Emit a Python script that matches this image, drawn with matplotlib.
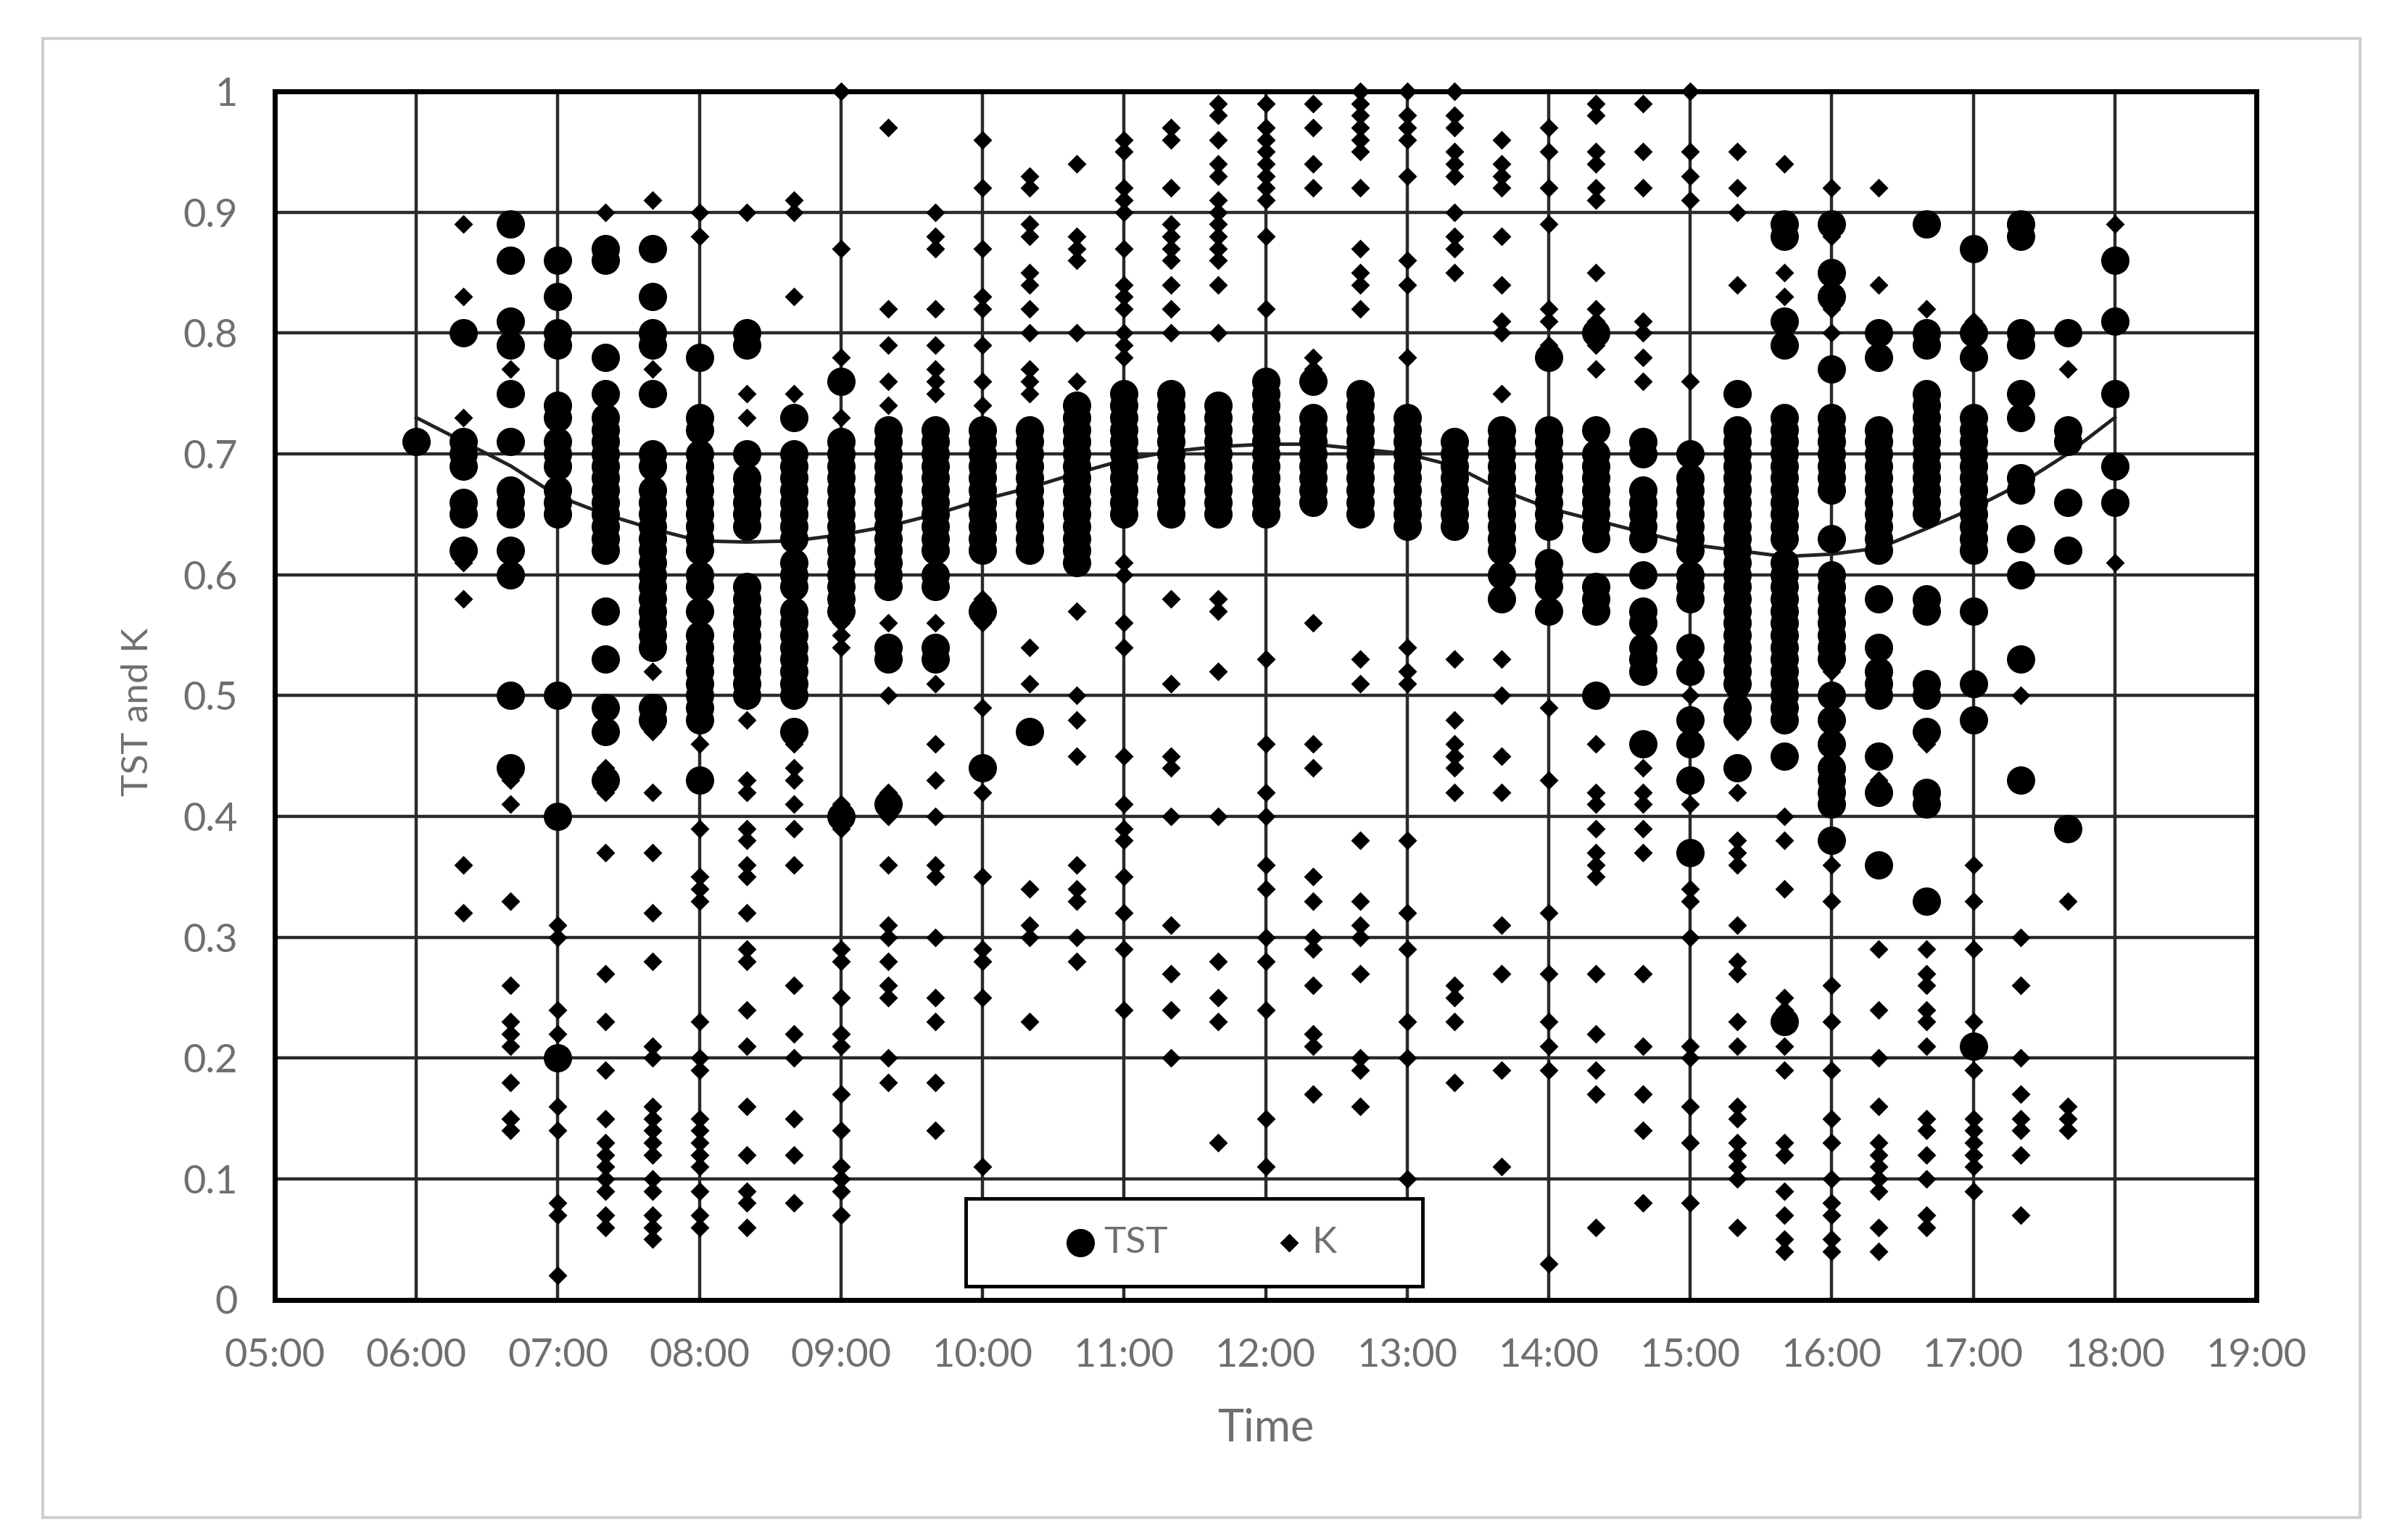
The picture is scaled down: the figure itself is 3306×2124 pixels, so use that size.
import matplotlib
matplotlib.use("Agg")
import matplotlib.pyplot as plt
from matplotlib.patches import Rectangle

plt.rcParams['font.family'] = ['Lato', 'DejaVu Sans']

## values, one list per time column, in hundredths
times = ['06:00', '06:20', '06:40', '07:00', '07:20', '07:40', '08:00', '08:20', '08:40', '09:00',
         '09:20', '09:40', '10:00', '10:20', '10:40', '11:00', '11:20', '11:40', '12:00', '12:20',
         '12:40', '13:00', '13:20', '13:40', '14:00', '14:20', '14:40', '15:00', '15:20', '15:40',
         '16:00', '16:20', '16:40', '17:00', '17:20', '17:40', '18:00']

tst = [
    [71],
    [80, 71, 70, 69, 66, 65, 62],
    [89, 86, 81, 79, 75, 71, 67, 66, 65, 62, 60, 50, 44],
    [86, 83, 80, 79, 74, 73, 71, 70, 69, 67, 66, 65, 50, 40, 20],
    [87, 86, 78, 75, 73, 72, 71, 70, 69, 68, 67, 66, 65, 64, 63, 62, 57, 53, 49, 47, 43],
    [87, 83, 80, 79, 75, 70, 69, 67, 66, 65, 64, 63, 62, 61, 60, 59, 58, 57, 56, 55, 54, 49, 48],
    [78, 73, 72, 70, 69, 68, 67, 66, 65, 64, 63, 62, 60, 59, 57, 55, 54, 53, 52, 51, 50, 49, 48, 43],
    [80, 79, 70, 68, 67, 66, 65, 64, 59, 58, 57, 56, 55, 54, 53, 52, 51, 50],
    [73, 70, 69, 68, 67, 66, 65, 64, 63, 61, 60, 59, 57, 56, 55, 54, 53, 52, 51, 50, 47],
    [76, 71, 70, 69, 68, 67, 66, 65, 64, 63, 62, 61, 60, 59, 58, 57, 40],
    [72, 71, 70, 69, 68, 67, 66, 65, 64, 63, 62, 61, 60, 59, 54, 53, 41],
    [72, 71, 70, 69, 68, 67, 66, 65, 64, 63, 62, 60, 59, 54, 53],
    [72, 71, 70, 69, 68, 67, 66, 65, 64, 63, 62, 57, 44],
    [72, 71, 70, 69, 68, 67, 66, 65, 64, 63, 62, 47],
    [74, 73, 72, 71, 70, 69, 68, 67, 66, 65, 64, 63, 62, 61],
    [75, 74, 73, 72, 71, 70, 69, 68, 67, 66, 65],
    [75, 74, 73, 72, 71, 70, 69, 68, 67, 66, 65],
    [74, 73, 72, 71, 70, 69, 68, 67, 66, 65],
    [76, 75, 74, 73, 72, 71, 70, 69, 68, 67, 66, 65],
    [76, 73, 72, 71, 70, 69, 68, 67, 66],
    [75, 74, 73, 72, 71, 70, 69, 68, 67, 66, 65],
    [73, 72, 71, 70, 69, 68, 67, 66, 65, 64],
    [71, 70, 69, 68, 67, 66, 65, 64],
    [72, 71, 70, 69, 68, 67, 66, 65, 64, 63, 62, 60, 58],
    [78, 72, 71, 70, 69, 68, 67, 66, 65, 64, 61, 60, 59, 57],
    [80, 72, 70, 69, 68, 67, 66, 65, 64, 63, 59, 58, 57, 50],
    [71, 70, 67, 66, 65, 64, 63, 60, 57, 56, 54, 53, 52, 46],
    [70, 68, 67, 66, 65, 64, 63, 62, 60, 59, 58, 54, 52, 48, 46, 43, 37],
    [75, 72, 71, 70, 69, 68, 67, 66, 65, 64, 63, 62, 61, 60, 59, 58, 57, 56, 55, 54, 53, 52, 51, 49, 48, 44],
    [89, 88, 81, 79, 73, 72, 71, 70, 69, 68, 67, 66, 65, 64, 63, 61, 60, 59, 58, 57, 56, 55, 54, 53, 52, 51, 50, 49, 48, 45, 23],
    [89, 85, 83, 77, 73, 72, 71, 70, 69, 68, 67, 63, 60, 59, 58, 57, 56, 55, 54, 53, 50, 48, 46, 44, 43, 42, 41, 38],
    [80, 78, 72, 71, 70, 69, 68, 67, 66, 65, 64, 63, 62, 58, 54, 52, 51, 50, 45, 42, 36],
    [89, 80, 79, 75, 74, 73, 72, 71, 70, 69, 68, 67, 66, 65, 58, 57, 51, 50, 47, 42, 41, 33],
    [87, 80, 78, 73, 72, 71, 70, 69, 68, 67, 66, 65, 64, 63, 62, 57, 51, 48, 21],
    [89, 88, 80, 79, 75, 73, 68, 67, 63, 60, 53, 43],
    [80, 72, 71, 66, 62, 39],
    [86, 81, 75, 69, 66],
]

k = [
    [],
    [89, 83, 73, 61, 58, 36, 32],
    [77, 43, 41, 33, 26, 23, 22, 21, 18, 15, 14],
    [40, 31, 30, 24, 22, 16, 14, 8, 7, 2],
    [90, 44, 42, 37, 27, 23, 19, 15, 13, 12, 11, 10, 9, 7, 6],
    [91, 77, 52, 47, 42, 37, 32, 28, 21, 20, 16, 15, 14, 13, 12, 10, 9, 7, 6, 5],
    [90, 88, 46, 39, 35, 34, 33, 23, 20, 19, 15, 14, 13, 12, 11, 9, 7, 6],
    [90, 75, 73, 48, 43, 42, 39, 38, 36, 35, 32, 29, 28, 24, 21, 16, 12, 9, 8, 6],
    [91, 90, 83, 75, 46, 44, 43, 41, 39, 36, 26, 22, 20, 15, 12, 8],
    [100, 87, 78, 73, 56, 55, 54, 41, 39, 29, 28, 25, 22, 21, 17, 14, 11, 10, 9, 7],
    [97, 82, 79, 76, 74, 56, 50, 42, 40, 36, 31, 30, 28, 26, 25, 20, 18],
    [90, 88, 87, 82, 79, 77, 76, 75, 56, 51, 46, 43, 40, 36, 35, 30, 25, 23, 18, 14],
    [96, 92, 87, 83, 82, 79, 76, 74, 58, 56, 49, 42, 35, 29, 28, 25, 11],
    [93, 92, 89, 88, 85, 84, 82, 80, 77, 76, 75, 54, 51, 34, 31, 30, 23],
    [94, 88, 87, 86, 80, 76, 57, 50, 48, 45, 36, 34, 33, 30, 28],
    [96, 95, 92, 91, 90, 87, 84, 83, 82, 80, 79, 78, 61, 60, 56, 54, 45, 41, 39, 38, 35, 32, 29, 24],
    [97, 96, 92, 89, 88, 87, 86, 84, 82, 80, 58, 51, 45, 44, 40, 31, 27, 24, 20],
    [99, 98, 96, 94, 93, 91, 90, 89, 88, 87, 86, 84, 80, 58, 57, 52, 40, 28, 25, 23, 13],
    [99, 97, 96, 95, 94, 93, 92, 91, 88, 82, 53, 46, 42, 40, 36, 34, 30, 28, 24, 15, 11],
    [99, 97, 94, 92, 78, 77, 56, 46, 44, 35, 33, 30, 29, 26, 22, 21, 17],
    [100, 99, 98, 97, 96, 95, 92, 87, 85, 84, 82, 53, 51, 38, 33, 31, 30, 27, 20, 19, 16],
    [100, 98, 97, 96, 93, 86, 84, 78, 54, 52, 51, 38, 32, 29, 23, 20, 10],
    [100, 98, 97, 95, 94, 93, 90, 88, 87, 85, 53, 48, 46, 45, 44, 42, 26, 25, 23, 18],
    [96, 94, 93, 92, 88, 84, 81, 80, 75, 53, 50, 45, 42, 31, 27, 19, 11],
    [97, 95, 92, 89, 82, 81, 79, 49, 43, 32, 27, 23, 21, 19, 3],
    [99, 98, 95, 94, 92, 91, 85, 82, 81, 79, 77, 46, 42, 41, 39, 37, 36, 35, 27, 22, 19, 17, 6],
    [99, 95, 92, 81, 80, 78, 76, 44, 42, 41, 39, 37, 27, 21, 17, 14, 8],
    [100, 95, 93, 91, 76, 50, 41, 34, 33, 30, 21, 20, 16, 13, 8],
    [95, 92, 90, 84, 50, 47, 42, 38, 37, 36, 31, 28, 27, 23, 21, 16, 15, 13, 12, 11, 10, 6],
    [94, 85, 83, 40, 38, 34, 25, 24, 21, 19, 13, 12, 9, 7, 5, 4],
    [92, 88, 82, 80, 52, 36, 33, 26, 23, 19, 15, 13, 10, 8, 7, 5, 4],
    [92, 84, 50, 43, 29, 24, 20, 16, 13, 12, 11, 10, 9, 6, 4],
    [82, 46, 29, 27, 26, 24, 23, 21, 15, 14, 12, 10, 7, 6],
    [81, 36, 33, 29, 23, 19, 15, 14, 13, 12, 11, 9],
    [50, 30, 26, 20, 17, 15, 14, 12, 7],
    [77, 33, 16, 15, 14],
    [89, 61],
]

trend = [0.73, 0.71, 0.69, 0.665, 0.65, 0.638, 0.628, 0.627, 0.628, 0.633, 0.64, 0.65, 0.662, 0.672,
         0.684, 0.695, 0.702, 0.706, 0.708, 0.708, 0.704, 0.70, 0.69, 0.67, 0.655, 0.645, 0.635, 0.625,
         0.62, 0.615, 0.617, 0.622, 0.638, 0.655, 0.675, 0.70, 0.73]

x_ticks = ['05:00', '06:00', '07:00', '08:00', '09:00', '10:00', '11:00', '12:00', '13:00', '14:00',
           '15:00', '16:00', '17:00', '18:00', '19:00']
y_ticks = [0, 0.1, 0.2, 0.3, 0.4, 0.5, 0.6, 0.7, 0.8, 0.9, 1]
y_tick_labels = ['0', '0.1', '0.2', '0.3', '0.4', '0.5', '0.6', '0.7', '0.8', '0.9', '1']


def hours(label):
    h, m = label.split(':')
    return int(h) + int(m) / 60


W, H = 3306, 2124
TEXT = '#6f6f6f'
FS = 39

fig = plt.figure(figsize=(W / 100, H / 100), dpi=100, facecolor='white')
fig.add_artist(Rectangle((59 / W, 1 - 2093 / H), (3255 - 59) / W, (2093 - 53) / H, transform=fig.transFigure,
                         fill=False, edgecolor='#cfcfcf', linewidth=3))

ax = fig.add_axes([379 / W, 1 - 1792.5 / H, (3112 - 379) / W, (1792.5 - 126) / H])

tst_x = []
tst_y = []
k_x = []
k_y = []
for i, t in enumerate(times):
    for v in tst[i]:
        tst_x.append(hours(t))
        tst_y.append(v / 100)
    for v in k[i]:
        k_x.append(hours(t))
        k_y.append(v / 100)

ax.scatter(tst_x, tst_y, s=790, marker='o', color='black', linewidths=0, zorder=3, clip_on=False, label='TST')
ax.scatter(k_x, k_y, s=175, marker='D', color='black', linewidths=0, zorder=3, clip_on=False, label='K')
ax.plot([hours(t) for t in times], trend, color='#222222', linewidth=3.5, zorder=2)

ax.set_xlim(hours(x_ticks[0]), hours(x_ticks[-1]))
ax.set_ylim(0, 1)
ax.set_xticks([hours(t) for t in x_ticks])
ax.set_xticklabels(x_ticks)
ax.set_yticks(y_ticks)
ax.set_yticklabels(y_tick_labels)
ax.tick_params(length=0, labelsize=FS, labelcolor=TEXT)
ax.tick_params(axis='x', pad=38)
ax.tick_params(axis='y', pad=37)
ax.grid(True, color='#2a2a2a', linewidth=3.2, zorder=1)
ax.set_axisbelow(True)
for s in ax.spines.values():
    s.set_linewidth(5)
    s.set_color('black')
    s.set_zorder(2.5)

ax.set_xlabel('Time', fontsize=44, color=TEXT)
ax.xaxis.set_label_coords(0.5, (1792.5 - 1970) / (1792.5 - 126), transform=ax.transAxes)
ax.xaxis.label.set_verticalalignment('center')
ax.set_ylabel('TST and K', fontsize=37, color=TEXT)
ax.yaxis.set_label_coords((190 - 379) / (3112 - 379), (1792.5 - 982) / (1792.5 - 126), transform=ax.transAxes)
ax.yaxis.label.set_verticalalignment('center')

## legend box, contents sit a bit right of its centre like the original
ax.add_patch(Rectangle((1332 / W, 1 - 1774 / H), (1962 - 1332) / W, (1774 - 1653) / H, transform=fig.transFigure,
                       facecolor='white', edgecolor='black', linewidth=3.5, clip_on=False, zorder=4.9))
leg = ax.legend(loc='center', bbox_to_anchor=((1654 - 379) / (3112 - 379), (1792.5 - 1713.5) / (1792.5 - 126)),
                ncol=2, fontsize=37, labelcolor=TEXT, frameon=False, columnspacing=2.75, handletextpad=0.12,
                handlelength=1.0, borderaxespad=0, borderpad=0, scatterpoints=1)
leg.set_zorder(5)

fig.savefig('out.png', dpi=100)
